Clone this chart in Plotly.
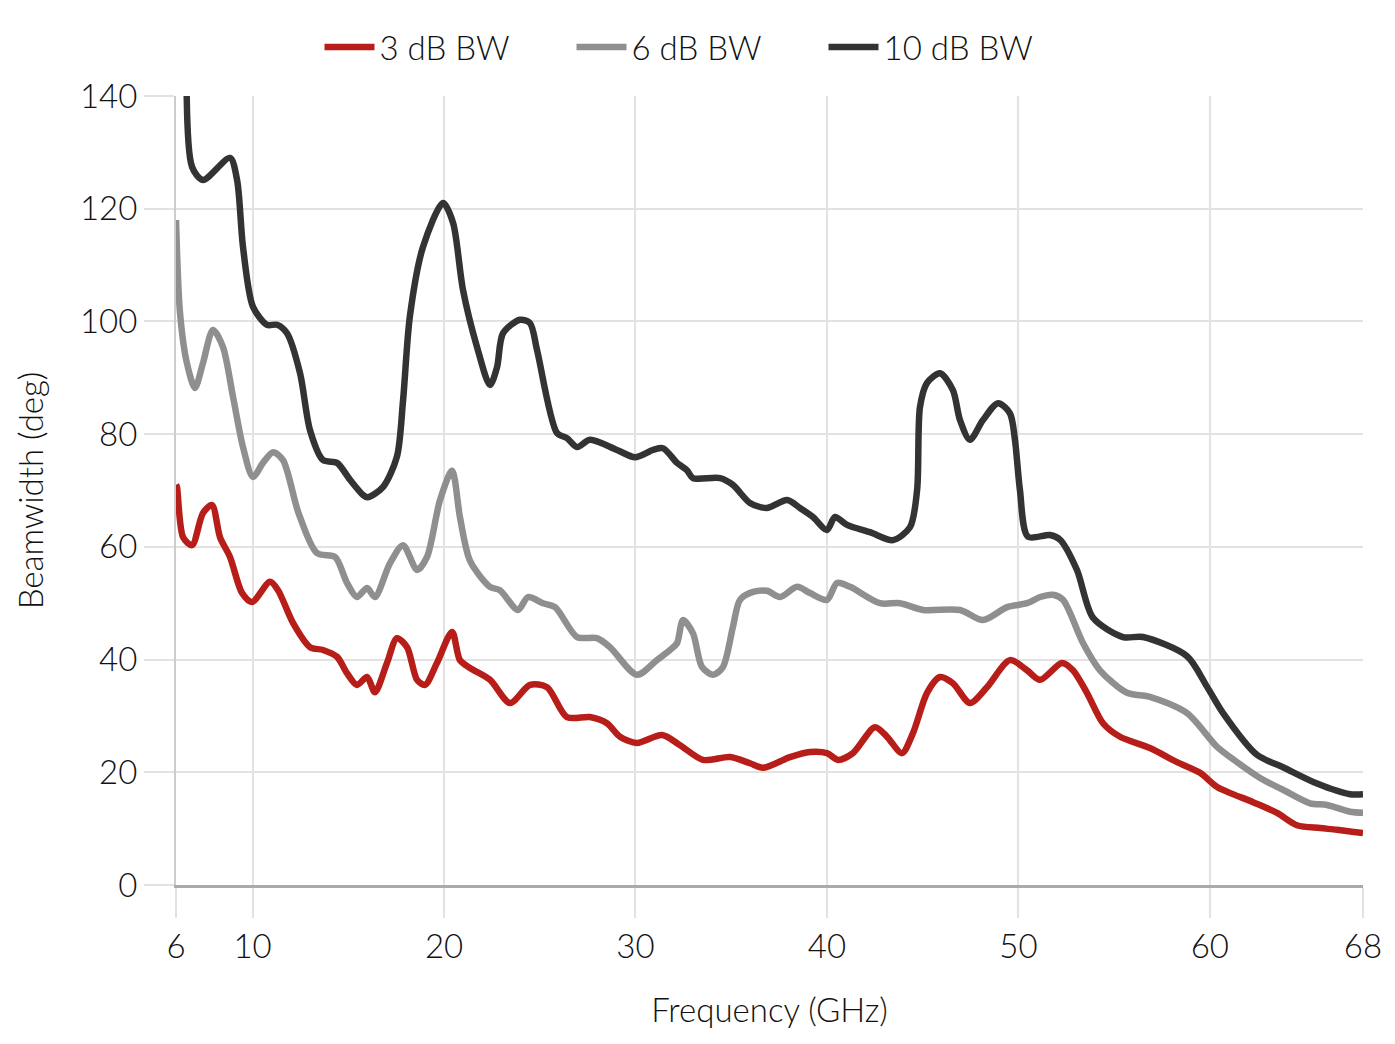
import plotly.graph_objects as go

# 3 dB beamwidth
f3 = [6.0, 6.05, 6.37, 6.84, 7.41, 7.88, 8.30, 8.82, 9.45, 9.97, 10.91, 11.33, 12.11, 13.00, 13.68,
      14.41, 14.93, 15.45, 15.98, 16.39, 17.02, 17.54, 18.07, 18.59, 19.01, 19.63, 20.42, 20.83,
      21.36, 22.40, 23.45, 24.49, 25.38, 26.42, 27.62, 28.51, 29.19, 30.08, 31.39, 32.33, 33.53,
      34.94, 35.98, 36.66, 38.07, 39.12, 40.00, 40.58, 41.36, 42.51, 43.14, 43.92, 44.50, 45.23,
      45.91, 46.58, 47.47, 48.36, 49.56, 50.45, 51.13, 52.28, 52.85, 53.58, 54.42, 55.31, 56.87,
      58.29, 59.49, 60.38, 62.26, 63.51, 64.55, 65.76, 66.64, 68.0]
bw3 = [71.0, 70.6, 61.7, 60.3, 66.0, 67.4, 61.7, 58.2, 51.8, 50.2, 53.8, 52.3, 46.5, 42.2, 41.7,
       40.5, 37.6, 35.5, 36.9, 34.2, 39.4, 43.8, 42.2, 36.4, 35.5, 39.4, 44.9, 39.9,
       38.5, 36.4, 32.3, 35.5, 35.1, 29.8, 29.8, 28.7, 26.3, 25.2, 26.6, 24.8, 22.2,
       22.7, 21.6, 20.8, 22.7, 23.6, 23.4, 22.2, 23.4, 28.0, 26.3, 23.4, 27.0, 34.1,
       36.9, 35.8, 32.3, 35.1, 39.9, 38.1, 36.4, 39.4, 38.1, 34.1, 28.7, 26.3, 24.3,
       21.8, 19.9, 17.4, 14.7, 12.8, 10.6, 10.1, 9.8, 9.2]

# 6 dB beamwidth
f6 = [6.0, 6.21, 6.57, 6.99, 7.41, 7.93, 8.45, 8.98, 9.50, 10.02, 10.54, 11.07, 11.59, 12.40,
      13.36, 14.31, 14.93, 15.45, 15.98, 16.39, 17.18, 17.86, 18.59, 19.11, 19.79, 20.42, 20.83,
      21.36, 22.40, 22.92, 23.86, 24.39, 25.17, 25.80, 26.95, 27.99, 28.67, 30.08, 31.12, 31.80,
      32.17, 32.48, 33.00, 33.47, 34.05, 34.57, 35.09, 35.46, 36.14, 36.87, 37.55, 38.44, 39.12,
      40.00, 40.53, 41.21, 42.77, 43.82, 45.02, 46.95, 48.15, 49.41, 50.45, 51.13, 51.81, 52.33,
      53.38, 54.26, 55.67, 56.87, 58.81, 60.38, 61.42, 62.62, 63.82, 65.23, 66.12, 67.32, 68.0]
bw6 = [118.0, 101.5, 92.6, 88.2, 92.6, 98.5, 95.5, 86.6, 77.7, 72.4, 74.9, 76.8, 75.4, 66.0,
       58.9, 58.2, 53.6, 51.1, 52.7, 51.1, 57.1, 60.3, 55.9, 58.2, 68.3, 73.5, 65.3,
       57.5, 52.9, 52.3, 48.8, 51.1, 50.0, 49.3, 44.0, 43.8, 42.2, 37.3, 39.9, 41.7,
       42.9, 47.0, 44.7, 38.7, 37.3, 38.7, 45.8, 50.6, 52.0, 52.2, 51.1, 52.9, 51.8,
       50.6, 53.6, 52.9, 50.0, 50.0, 48.8, 48.8, 47.0, 49.3, 50.0, 51.1, 51.5, 50.6,
       42.9, 38.1, 34.1, 33.4, 30.5, 24.5, 21.8, 19.0, 16.9, 14.5, 14.2, 13.0, 12.8]

# 10 dB beamwidth
f10 = [6.55, 6.84, 7.41, 8.82, 9.19, 9.50, 10.02, 10.75, 11.28, 11.80, 12.48, 13.00, 13.68, 14.41,
       15.09, 15.77, 16.00, 16.81, 17.54, 17.86, 18.22, 18.90, 19.95, 20.47, 20.99, 21.72, 22.40,
       22.77, 23.08, 23.97, 24.49, 24.86, 25.90, 26.42, 26.95, 27.62, 29.03, 29.98, 30.92, 31.44,
       32.17, 32.69, 33.00, 34.42, 35.09, 35.98, 36.87, 37.92, 38.59, 39.27, 40.00, 40.42, 41.05,
       42.25, 43.45, 44.34, 44.71, 44.86, 45.23, 45.91, 46.58, 46.95, 47.47, 48.15, 48.94, 49.56,
       49.82, 50.08, 50.50, 51.65, 52.17, 53.06, 53.90, 55.46, 56.51, 58.81, 59.85, 60.69, 62.46,
       63.82, 65.60, 67.32, 68.0]
bw10 = [150.0, 127.4, 125.1, 129.0, 125.1, 113.2, 102.6, 99.4, 99.4, 97.9, 90.8, 80.7, 75.4, 74.9,
        71.9, 69.2, 68.8, 70.6, 76.0, 86.0, 101.0, 113.2, 121.0, 117.5, 105.6, 95.5, 88.7,
        91.9, 97.9, 100.3, 99.7, 94.9, 80.2, 79.3, 77.7, 79.0, 77.2, 75.9, 77.2, 77.5,
        74.9, 73.6, 72.2, 72.2, 71.0, 67.8, 66.9, 68.3, 66.9, 65.3, 63.0, 65.3, 63.9,
        62.6, 61.2, 63.5, 70.1, 84.8, 89.1, 90.8, 87.8, 82.5, 79.0, 82.5, 85.5, 83.7,
        79.0, 70.1, 61.8, 62.1, 61.3, 55.9, 47.4, 44.0, 44.0, 40.6, 35.2, 30.5, 23.1,
        20.9, 18.0, 16.1, 16.1]

x_ticks = [6, 10, 20, 30, 40, 50, 60, 68]
y_ticks = [0, 20, 40, 60, 80, 100, 120, 140]

FONT = "Lato, 'Noto Sans', sans-serif"
FS = 33

fig = go.Figure()
series = [("3 dB BW", f3, bw3, "#b81e19"),
          ("6 dB BW", f6, bw6, "#8f8f8f"),
          ("10 dB BW", f10, bw10, "#333333")]
for name, xs, ys, col in series:
    fig.add_trace(go.Scatter(x=xs, y=ys, name=name, mode="lines",
                             line=dict(color=col, width=6.5, shape="spline", smoothing=0.8)))

# page body has an 8px margin; figure sized so the plot area lands where the reference has it
fig.update_layout(
    width=1379, height=1028,
    margin=dict(l=168, r=24, t=88, b=151, autoexpand=False),
    paper_bgcolor="white", plot_bgcolor="white",
    font=dict(family=FONT, size=FS, color="#111111", weight=300),
    legend=dict(orientation="h", xref="container", x=0.5, xanchor="center",
                yref="container", y=0.962, yanchor="middle",
                font=dict(size=FS, family=FONT, weight=300),
                itemwidth=50, entrywidth=187, entrywidthmode="pixels"),
    showlegend=True,
)
fig.update_xaxes(range=[6, 68], tickvals=x_ticks, ticktext=[str(v) for v in x_ticks],
                 showgrid=True, gridcolor="#e2e2e2", gridwidth=2,
                 ticks="outside", ticklen=30, tickwidth=2, tickcolor="#e2e2e2",
                 showline=True, linecolor="#aaaaaa", linewidth=3,
                 zeroline=False, automargin=False,
                 title=dict(text="Frequency (GHz)", standoff=36, font=dict(size=FS)))
fig.update_yaxes(range=[0, 140], tickvals=y_ticks,
                 showgrid=True, gridcolor="#e2e2e2", gridwidth=2,
                 ticks="outside", ticklen=30, tickwidth=2, tickcolor="#e2e2e2",
                 showline=True, linecolor="#cccccc", linewidth=2,
                 zeroline=False, automargin=False,
                 title=dict(text="Beamwidth (deg)", standoff=26, font=dict(size=FS)))

fig.write_html("out.html")
